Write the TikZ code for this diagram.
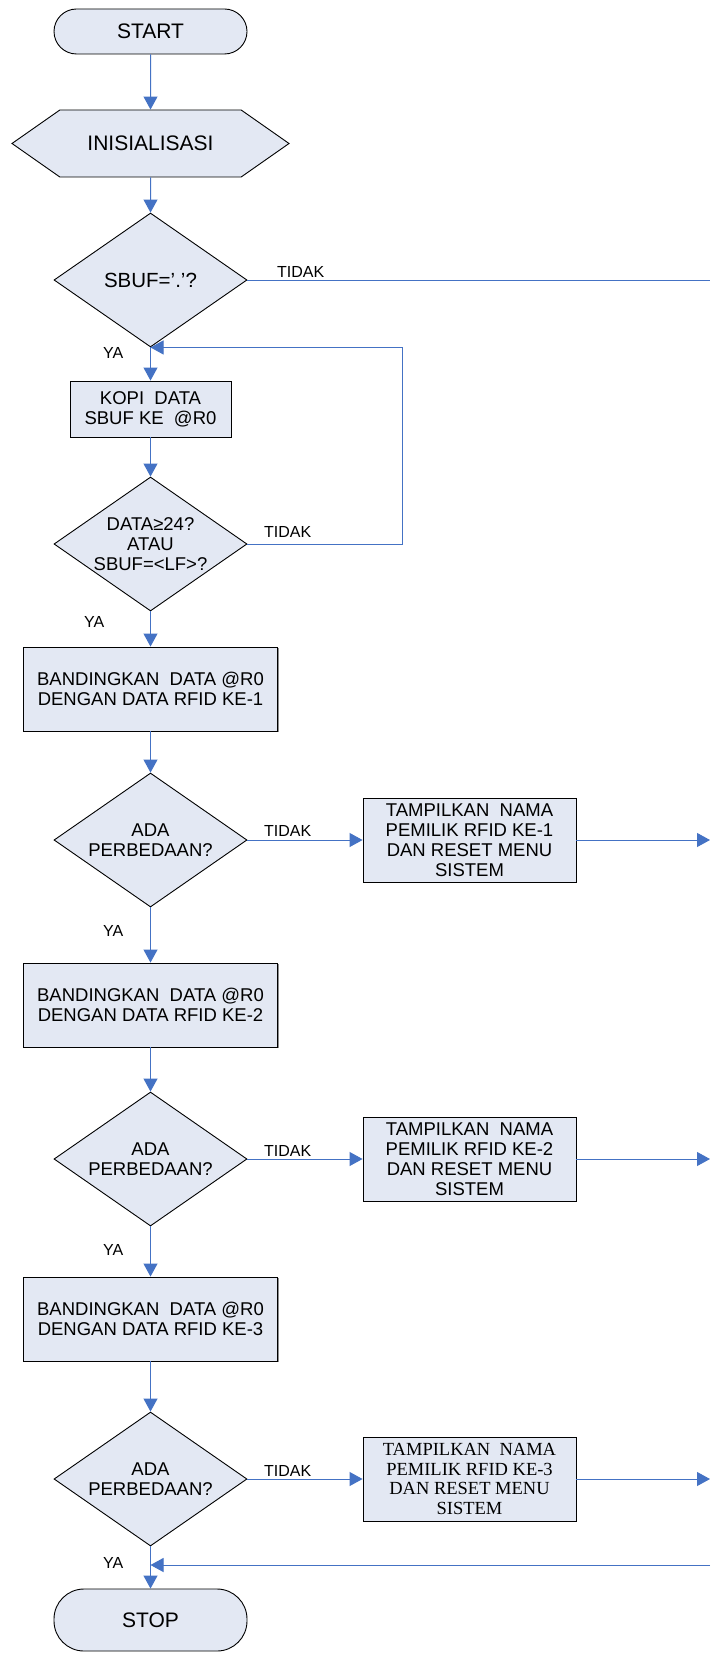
\documentclass[tikz,border=0pt]{standalone}
\usepackage{fontspec}
\setmainfont{Liberation Sans}
\newfontfamily\serifbox{Liberation Serif}
\usetikzlibrary{shapes.geometric,shapes.symbols,arrows.meta,shadows}

\definecolor{flow}{RGB}{68,114,196}
\definecolor{boxfill}{RGB}{227,232,243}

\begin{document}
\begin{tikzpicture}[x=1pt,y=-1pt,
  base/.style={draw=black, line width=0.9pt, fill=boxfill, inner sep=0pt,
    align=center, font=\fontsize{18.5}{20}\selectfont},
  terminal/.style={base, rectangle, minimum width=193pt},
  proc/.style={base, rectangle,
    drop shadow={shadow xshift=1.3pt, shadow yshift=-1.3pt, fill=black!45, opacity=1}},
  wide/.style={proc, minimum width=254pt, minimum height=84pt},
  side/.style={proc, minimum width=213pt, minimum height=84pt},
  decide/.style={base, diamond, aspect=1.44, minimum width=193pt, minimum height=134pt},
  prep/.style={base, signal, signal to=east and west, signal pointer angle=70,
    minimum width=277pt, minimum height=67pt},
  flowline/.style={draw=flow, line width=1pt},
  arr/.style={flowline, -{Triangle[length=13pt,width=14pt]}},
  lbl/.style={font=\fontsize{16}{16}\selectfont, inner sep=0pt, anchor=base west},
]
\fill[white] (0,0) rectangle (710,1653);
\useasboundingbox (0,0) rectangle (710,1653);

% main column
\node[terminal, minimum height=45pt, rounded corners=22.5pt,
  font=\fontsize{21}{24}\selectfont] (start) at (150.5,31.5) {START};
\node[prep, font=\fontsize{21}{24}\selectfont] (init) at (150.5,143.5) {INISIALISASI};
\node[decide, font=\fontsize{20.5}{22}\selectfont] (d1) at (150.5,280) {SBUF=’.’?};
\node[proc, minimum width=161pt, minimum height=56pt] (kopi) at (150.5,409)
  {KOPI\ \ DATA\\SBUF KE\ \ @R0};
\node[decide] (d2) at (150.5,544) {DATA≥24?\\ATAU\\SBUF=<LF>?};
\node[wide] (b1) at (150.5,689) {BANDINGKAN\ \ DATA @R0\\DENGAN DATA RFID KE-1};
\node[decide] (d3) at (150.5,840) {ADA\\PERBEDAAN?};
\node[wide] (b2) at (150.5,1005) {BANDINGKAN\ \ DATA @R0\\DENGAN DATA RFID KE-2};
\node[decide] (d4) at (150.5,1159) {ADA\\PERBEDAAN?};
\node[wide] (b3) at (150.5,1319) {BANDINGKAN\ \ DATA @R0\\DENGAN DATA RFID KE-3};
\node[decide] (d5) at (150.5,1479) {ADA\\PERBEDAAN?};
\node[terminal, minimum height=62pt, rounded corners=30pt,
  font=\fontsize{21}{24}\selectfont] (stop) at (150.5,1620) {STOP};

% side boxes
\node[side] (t1) at (469.5,840) {TAMPILKAN\ \ NAMA\\PEMILIK RFID KE-1\\DAN RESET MENU\\SISTEM};
\node[side] (t2) at (469.5,1159) {TAMPILKAN\ \ NAMA\\PEMILIK RFID KE-2\\DAN RESET MENU\\SISTEM};
\node[side, font=\serifbox\fontsize{18.5}{19.5}\selectfont] (t3) at (469.5,1479)
  {TAMPILKAN\ \ NAMA\\PEMILIK RFID KE-3\\DAN RESET MENU\\SISTEM};

% free ends at the right border
\coordinate (x0) at (710,280);
\coordinate (x1) at (710,840);
\coordinate (x2) at (710,1159);
\coordinate (x3) at (710,1479);
\coordinate (jin) at (710,1565);
\coordinate (jout) at (150.5,1565);
\coordinate (loopc) at (402,544);

% connectors
\draw[arr] (start) -- (init);
\draw[arr] (init) -- (d1);
\draw[flowline] (d1.east) -- (x0);
\draw[arr] (d1) -- (kopi);
\draw[arr] (kopi) -- (d2);
\draw[arr] (d2.east) -- (loopc) |- (d1.south);
\draw[arr] (d2) -- (b1);
\draw[arr] (b1) -- (d3);
\draw[arr] (d3) -- (t1);
\draw[arr] (t1) -- (x1);
\draw[arr] (d3) -- (b2);
\draw[arr] (b2) -- (d4);
\draw[arr] (d4) -- (t2);
\draw[arr] (t2) -- (x2);
\draw[arr] (d4) -- (b3);
\draw[arr] (b3) -- (d5);
\draw[arr] (d5) -- (t3);
\draw[arr] (t3) -- (x3);
\draw[arr] (d5) -- (stop);
\draw[arr] (jin) -- (jout);

% branch labels
\node[lbl] (n1) at (277,277) {TIDAK};
\node[lbl] (y1) at (103,358) {YA};
\node[lbl] (n2) at (264,537) {TIDAK};
\node[lbl] (y2) at (84,627) {YA};
\node[lbl] (n3) at (264,836) {TIDAK};
\node[lbl] (y3) at (103,936) {YA};
\node[lbl] (n4) at (264,1156) {TIDAK};
\node[lbl] (y4) at (103,1255) {YA};
\node[lbl] (n5) at (264,1476) {TIDAK};
\node[lbl] (y5) at (103,1568) {YA};
\end{tikzpicture}
\end{document}
